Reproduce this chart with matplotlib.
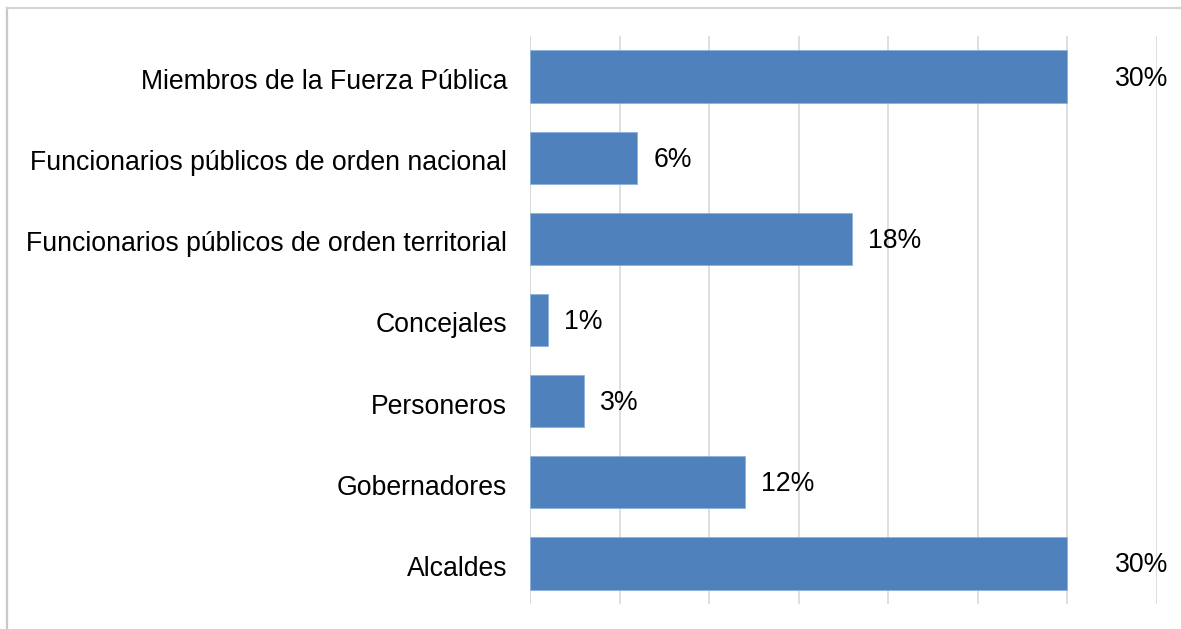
import matplotlib
matplotlib.use("Agg")
import matplotlib.pyplot as plt
import matplotlib.transforms as mtransforms
from matplotlib.lines import Line2D

categories = [
    "Alcaldes",
    "Gobernadores",
    "Personeros",
    "Concejales",
    "Funcionarios públicos de orden territorial",
    "Funcionarios públicos de orden nacional",
    "Miembros de la Fuerza Pública",
]
values = [30, 12, 3, 1, 18, 6, 30]
value_labels = ["30%", "12%", "3%", "1%", "18%", "6%", "30%"]
x_ticks = [0, 5, 10, 15, 20, 25, 30, 35]

plt.rcParams["font.family"] = ["Liberation Sans", "DejaVu Sans"]

W, H = 1181, 629
fig = plt.figure(figsize=(W / 100, H / 100), dpi=100)
ax = fig.add_axes([530 / W, 1 - 604 / H, (1157 - 530) / W, (604 - 36) / H])

y = list(range(len(categories)))
ax.barh(y, values, height=0.645, color="#4f81bd", edgecolor="#8eb0dc",
        linewidth=0.6, zorder=3)

ax.set_xlim(0, 35)
ax.set_ylim(-0.5, len(categories) - 0.5)
ax.set_xticks(x_ticks)
ax.xaxis.grid(True, color="#d9d9d9", linewidth=1.2, zorder=0)
ax.set_xticklabels([])
ax.tick_params(axis="x", length=0)
ax.tick_params(axis="y", length=0, pad=16.5, labelsize=19.2)
ax.set_yticks(y)
ax.set_yticklabels(categories)
shift = mtransforms.ScaledTranslation(0, -2.5 / 100, fig.dpi_scale_trans)
for lbl in ax.get_yticklabels():
    lbl.set_transform(lbl.get_transform() + shift)
for s in ax.spines.values():
    s.set_visible(False)
ax.axvline(0, color="#d9d9d9", linewidth=1.2, zorder=1)

for yi, v, lab in zip(y, values, value_labels):
    dx = 48 if v >= 30 else 16
    ax.annotate(lab, xy=(v, yi), xytext=(dx * 72 / 100, -2.0 * 72 / 100),
                textcoords="offset points", va="center", ha="left",
                fontsize=19.2, color="#000000", zorder=4)

# outer chart frame (top and left visible)
fig.add_artist(Line2D([7 / W, 7 / W], [0, 1 - 8 / H], transform=fig.transFigure,
                      color="#c8c8c8", linewidth=1.6))
fig.add_artist(Line2D([7 / W, 1], [1 - 8 / H, 1 - 8 / H], transform=fig.transFigure,
                      color="#d4d4d4", linewidth=1.6))

fig.savefig("out.png", dpi=100, facecolor="white")
